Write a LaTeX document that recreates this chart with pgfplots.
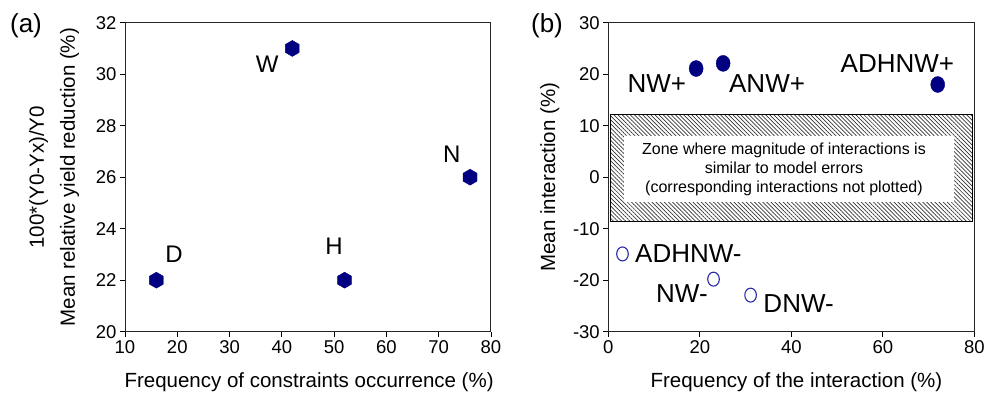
\documentclass[border=0pt]{standalone}
\usepackage{fontspec}
\setmainfont{Liberation Sans}
\usepackage{pgfplots}
\pgfplotsset{compat=1.18}
\usetikzlibrary{patterns.meta}
\definecolor{navy}{RGB}{0,0,128}
\definecolor{openblue}{RGB}{40,40,170}

\pgfdeclareplotmark{hexa}{%
  \pgfpathmoveto{\pgfqpointpolar{90}{\pgfplotmarksize}}%
  \pgfpathlineto{\pgfqpointpolar{150}{\pgfplotmarksize}}%
  \pgfpathlineto{\pgfqpointpolar{210}{\pgfplotmarksize}}%
  \pgfpathlineto{\pgfqpointpolar{270}{\pgfplotmarksize}}%
  \pgfpathlineto{\pgfqpointpolar{330}{\pgfplotmarksize}}%
  \pgfpathlineto{\pgfqpointpolar{30}{\pgfplotmarksize}}%
  \pgfpathclose\pgfusepathqfillstroke}
\pgfdeclareplotmark{ellf}{%
  \pgfpathellipse{\pgfpointorigin}{\pgfqpoint{7pt}{0pt}}{\pgfqpoint{0pt}{8pt}}%
  \pgfusepathqfillstroke}
\pgfdeclareplotmark{ello}{%
  \pgfpathellipse{\pgfpointorigin}{\pgfqpoint{5.8pt}{0pt}}{\pgfqpoint{0pt}{7pt}}%
  \pgfusepathqstroke}

\pgfplotsset{mystyle/.style={
  scale only axis, width=366pt, height=309pt,
  axis line style={line width=1pt, black!85},
  tick style={line width=0.9pt, black},
  tick align=outside, xtick pos=left, ytick pos=left,
  major tick length=5pt,
  tick label style={font=\fontsize{18.5}{21}\selectfont},
  /pgf/number format/assume math mode=true,
  label style={font=\fontsize{20.5}{24}\selectfont},
  clip=false}}

\begin{document}
\begin{tikzpicture}
\path[use as bounding box] (0,0) rectangle (987pt,395pt);

\begin{axis}[mystyle, at={(125pt,63.3pt)},
  xmin=10, xmax=80, ymin=20, ymax=32,
  xtick={10,20,...,80}, ytick={20,22,...,32},
  xlabel={Frequency of constraints occurrence (\%)},
  ylabel={100*(Y0-Yx)/Y0\\[7pt]Mean relative yield reduction (\%)},
  ylabel style={align=center, at={(axis description cs:-0.194,0.5)}, anchor=center},
  xlabel style={at={(axis description cs:0.503,-0.165)}, anchor=center}]
\addplot[only marks, mark=hexa, mark size=8pt, color=navy] coordinates {(16,22) (42,31) (52,22) (76,26)};
\node[font=\fontsize{24}{28}\selectfont] at (axis cs:37.2,30.4) {W};
\node[font=\fontsize{24}{28}\selectfont] at (axis cs:19.4,23.0) {D};
\node[font=\fontsize{24}{28}\selectfont] at (axis cs:50.0,23.3) {H};
\node[font=\fontsize{24}{28}\selectfont] at (axis cs:72.5,26.9) {N};
\end{axis}

\begin{axis}[mystyle, at={(608.3pt,63.3pt)},
  xmin=0, xmax=80, ymin=-30, ymax=30,
  xtick={0,20,...,80}, ytick={-30,-20,...,30},
  xlabel={Frequency of the interaction (\%)},
  ylabel={Mean interaction (\%)},
  ylabel style={at={(axis description cs:-0.16,0.5)}, anchor=center},
  xlabel style={at={(axis description cs:0.514,-0.165)}, anchor=center}]
\addplot[draw=black, line width=0.8pt, pattern={Lines[angle=-45, distance=2.9pt, line width=0.7pt]}, pattern color=black!80] coordinates {(0.4,-8.6) (79.6,-8.6) (79.6,12.1) (0.4,12.1)} -- cycle;
\addplot[draw=none, fill=white] coordinates {(3.4,-4.75) (75.6,-4.75) (75.6,8) (3.4,8)} -- cycle;
\node[align=center, font=\fontsize{16}{19}\selectfont] at (axis cs:38.4,1.6) {Zone where magnitude of interactions is\\similar to model errors\\(corresponding interactions not plotted)};
\addplot[only marks, mark=ellf, color=navy] coordinates {(19.2,21.1) (25.1,22.1) (72.0,18.0)};
\addplot[only marks, mark=ello, color=openblue, line width=1.1pt] coordinates {(3.1,-14.9) (23.0,-19.8) (31.1,-22.9)};
\node[font=\fontsize{26}{30}\selectfont] at (axis cs:10.6,18.2) {NW+};
\node[font=\fontsize{26}{30}\selectfont] at (axis cs:34.7,18.2) {ANW+};
\node[font=\fontsize{26}{30}\selectfont] at (axis cs:63.2,22.1) {ADHNW+};
\node[font=\fontsize{26}{30}\selectfont] at (axis cs:17.5,-14.8) {ADHNW-};
\node[font=\fontsize{26}{30}\selectfont] at (axis cs:16.1,-22.5) {NW-};
\node[font=\fontsize{26}{30}\selectfont] at (axis cs:41.6,-24.5) {DNW-};
\end{axis}

\node[font=\fontsize{26}{30}\selectfont] at (26pt,369pt) {(a)};
\node[font=\fontsize{26}{30}\selectfont] at (547pt,369pt) {(b)};
\end{tikzpicture}
\end{document}
